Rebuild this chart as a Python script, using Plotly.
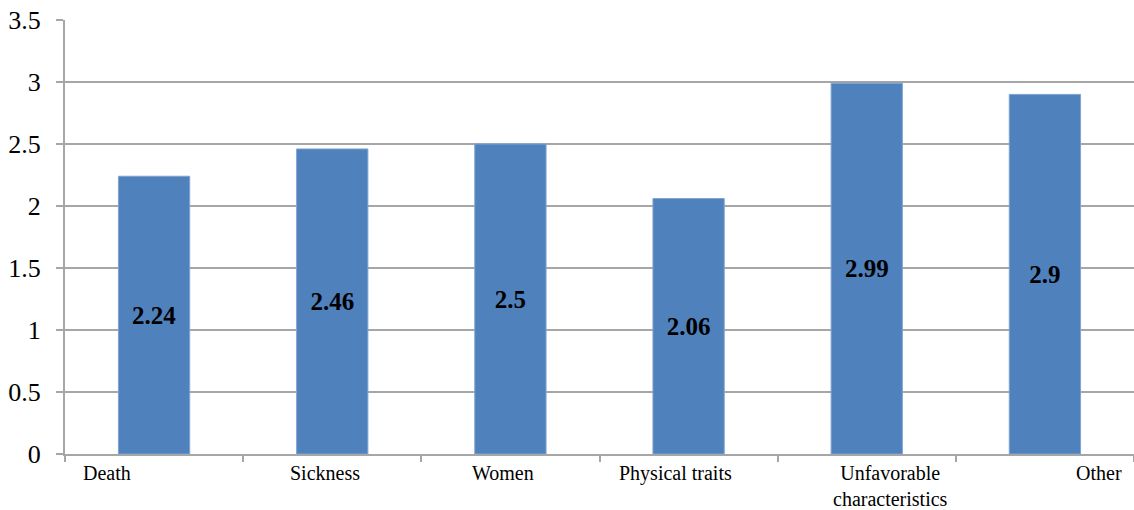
import plotly.graph_objects as go

categories = ["Death", "Sickness", "Women", "Physical traits", "Unfavorable<br>characteristics", "Other"]
values = [2.24, 2.46, 2.5, 2.06, 2.99, 2.9]
value_labels = ["2.24", "2.46", "2.5", "2.06", "2.99", "2.9"]
y_ticks = [0, 0.5, 1, 1.5, 2, 2.5, 3, 3.5]
y_ticklabels = ["0", "0.5", "1", "1.5", "2", "2.5", "3", "3.5"]

label_xshift = [-47, -7, -7, -13, 24, 54]

FONT = "Liberation Serif"
GRID = "#A6A6A6"

fig = go.Figure(go.Bar(
    x=categories, y=values, text=value_labels,
    textposition="inside", insidetextanchor="middle", textangle=0,
    textfont=dict(family=FONT, size=25, color="black", weight="bold"),
    marker=dict(color="#4F81BD", line=dict(color="#7FA3D2", width=1)),
    width=0.40, cliponaxis=False,
))

for cat, dx in zip(categories, label_xshift):
    fig.add_annotation(x=cat, y=0, xref="x", yref="paper", yanchor="top",
                       text=cat, showarrow=False, xshift=dx, yshift=-6,
                       font=dict(family=FONT, size=20, color="black"),
                       align="center")

fig.update_layout(
    width=1134, height=510,
    margin=dict(l=65, r=0, t=20, b=56),
    paper_bgcolor="white", plot_bgcolor="white",
    showlegend=False,
    font=dict(family=FONT, size=20, color="black"),
)
fig.update_xaxes(showticklabels=False, tickson="boundaries", ticks="outside",
                 ticklen=6, tickcolor=GRID, tickwidth=2,
                 showline=True, linecolor=GRID, linewidth=2, showgrid=False,
                 range=[-0.5, 5.5])
fig.update_yaxes(range=[0, 3.5], tickvals=y_ticks, ticktext=y_ticklabels,
                 ticks="outside", ticklen=7, tickcolor=GRID, tickwidth=2,
                 ticklabelstandoff=10,
                 showline=True, linecolor=GRID, linewidth=2,
                 showgrid=True, gridcolor=GRID, gridwidth=2, zeroline=False,
                 tickfont=dict(family=FONT, size=26, color="black"))

fig.write_html("out.html")
